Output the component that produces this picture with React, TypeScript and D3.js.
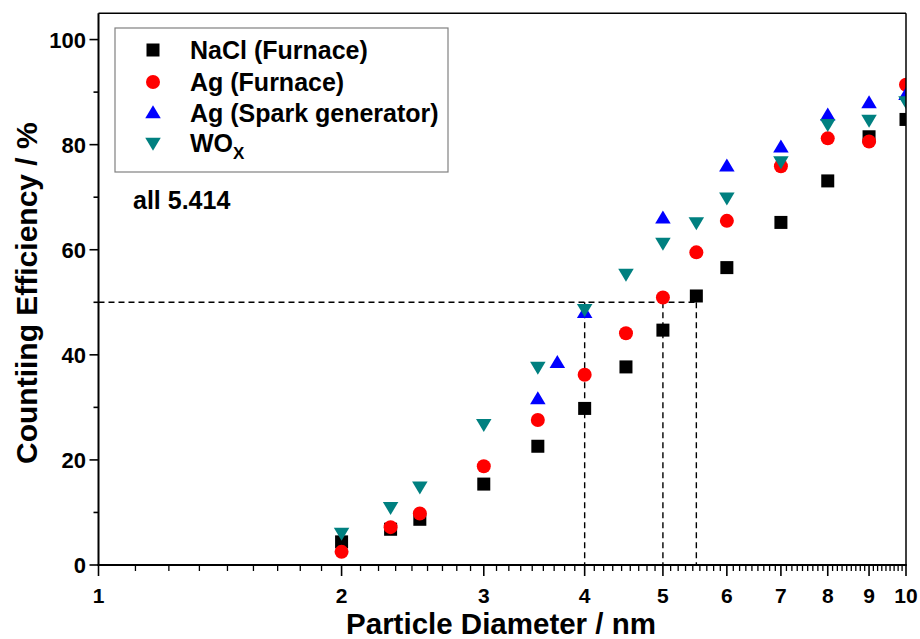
import React from "react";
import * as d3 from "d3";

const diameters = [2, 2.3, 2.5, 3, 3.5, 4, 4.5, 5, 5.5, 6, 7, 8, 9, 10];
const naclFurnace = [4.4, 6.8, 8.7, 15.4, 22.6, 29.8, 37.7, 44.7, 51.2, 56.6, 65.2, 73.1, 81.5, 84.8];
const agFurnace = [2.5, 7.2, 9.8, 18.8, 27.6, 36.2, 44.1, 50.9, 59.5, 65.5, 75.9, 81.2, 80.6, 91.4];
const sparkDiameters = [3.5, 3.7, 4, 5, 6, 7, 8, 9, 10];
const agSpark = [31.6, 38.5, 48.0, 66.0, 75.9, 79.5, 85.6, 87.9, 89.5];
const wox = [6.1, 11.0, 14.9, 26.8, 37.7, 48.7, 55.4, 61.3, 65.2, 69.9, 76.8, 83.9, 84.7, 88.2];

const xTickValues = [1, 2, 3, 4, 5, 6, 7, 8, 9, 10];
const yTickValues = [0, 20, 40, 60, 80, 100];
const yMinorValues = [10, 30, 50, 70, 90];
const cutoffDiameters = [4, 5, 5.5];
const cutoffEfficiency = 50;

const legendLabels = ["NaCl (Furnace)", "Ag (Furnace)", "Ag (Spark generator)", "WO"];

const FONT = "'Liberation Sans', Arial, Helvetica, sans-serif";

export default function App() {
  const W = 920, H = 639;
  const left = 98.5, right = 906, top = 13.3, bottom = 565;
  const x = d3.scaleLog().domain([1, 10]).range([left, right]);
  const y = d3.scaleLinear().domain([0, 105]).range([bottom, top]);

  const xMinor: number[] = [];
  for (let k = 1; k < 10; k++) for (let j = 1; j <= 8; j++) xMinor.push(k + j / 9);

  const sq = 13, r = 7, tw = 15.5, th = 13;
  const square = (cx: number, cy: number, key: string) => (
    <rect key={key} x={cx - sq / 2} y={cy - sq / 2} width={sq} height={sq} fill="#000" />
  );
  const circle = (cx: number, cy: number, key: string) => (
    <circle key={key} cx={cx} cy={cy} r={r} fill="#ff0000" />
  );
  const up = (cx: number, cy: number, key: string) => (
    <path key={key} d={`M${cx},${cy - th * 0.6} L${cx + tw / 2},${cy + th * 0.4} L${cx - tw / 2},${cy + th * 0.4}Z`} fill="#0000ff" />
  );
  const down = (cx: number, cy: number, key: string) => (
    <path key={key} d={`M${cx},${cy + th * 0.6} L${cx + tw / 2},${cy - th * 0.4} L${cx - tw / 2},${cy - th * 0.4}Z`} fill="#008080" />
  );
  const makers = [square, circle, up, down];

  const legX = 153, legTextX = 190, legRows = [50, 82, 113, 143];

  return (
    <svg width={W} height={H} style={{ position: "absolute", left: 0, top: 0, background: "#fff" }} fontFamily={FONT}>
      <defs>
        <clipPath id="plotclip">
          <rect x={left} y={top} width={right - left} height={bottom - top} />
        </clipPath>
      </defs>
      <rect x={0} y={0} width={W} height={H} fill="#fff" />

      {/* dashed guides */}
      <g stroke="#000" strokeWidth={1.4} strokeDasharray="6,4" fill="none">
        <line x1={left} x2={x(5.5)} y1={y(cutoffEfficiency)} y2={y(cutoffEfficiency)} />
        {cutoffDiameters.map((d) => (
          <line key={d} x1={x(d)} x2={x(d)} y1={y(cutoffEfficiency)} y2={bottom} />
        ))}
      </g>

      {/* data */}
      <g clipPath="url(#plotclip)">
        {diameters.map((d, i) => square(x(d), y(naclFurnace[i]), "n" + i))}
        {diameters.map((d, i) => circle(x(d), y(agFurnace[i]), "a" + i))}
        {sparkDiameters.map((d, i) => up(x(d), y(agSpark[i]), "s" + i))}
        {diameters.map((d, i) => down(x(d), y(wox[i]), "w" + i))}
      </g>

      {/* frame */}
      <g stroke="#000" fill="none">
        <line x1={left} x2={right} y1={top} y2={top} strokeWidth={1.5} />
        <line x1={right} x2={right} y1={top} y2={bottom} strokeWidth={1.5} />
        <line x1={left} x2={left} y1={top} y2={bottom + 1} strokeWidth={2} />
        <line x1={left - 1} x2={right + 0.75} y1={bottom} y2={bottom} strokeWidth={2} />
      </g>

      {/* ticks */}
      <g stroke="#000" strokeWidth={1.6}>
        {xTickValues.map((v) => (
          <line key={"xt" + v} x1={x(v)} x2={x(v)} y1={bottom} y2={bottom + 11} />
        ))}
        {xMinor.map((v, i) => (
          <line key={"xm" + i} x1={x(v)} x2={x(v)} y1={bottom} y2={bottom + 6} strokeWidth={1.3} />
        ))}
        {yTickValues.map((v) => (
          <line key={"yt" + v} x1={left - 9} x2={left} y1={y(v)} y2={y(v)} />
        ))}
        {yMinorValues.map((v) => (
          <line key={"ym" + v} x1={left - 5} x2={left} y1={y(v)} y2={y(v)} />
        ))}
      </g>

      <g fontWeight="bold" fontSize={22} fill="#000">
        {xTickValues.map((v) => (
          <text key={"xl" + v} x={x(v)} y={603} fontSize={21} textAnchor="middle">{v}</text>
        ))}
        {yTickValues.map((v) => (
          <text key={"yl" + v} x={86} y={y(v) + 8} textAnchor="end">{v}</text>
        ))}
      </g>

      <text x={501} y={634} textAnchor="middle" fontWeight="bold" fontSize={29.5}>Particle Diameter / nm</text>
      <text transform={`translate(37,${(top + bottom) / 2 + 4}) rotate(-90)`} textAnchor="middle" fontWeight="bold" fontSize={30}>Countiing Efficiency / %</text>

      {/* legend */}
      <rect x={115} y={28} width={333} height={144} fill="#fff" stroke="#808080" strokeWidth={1.2} />
      {legendLabels.map((lab, i) => (
        <g key={lab}>
          {makers[i](legX, legRows[i], "lg" + i)}
          <text x={legTextX} y={legRows[i] + 8.5} fontWeight="bold" fontSize={25}>
            {lab}
            {i === 3 ? <tspan fontSize={17} dy={7}>X</tspan> : null}
          </text>
        </g>
      ))}
      <text x={133} y={209} fontWeight="bold" fontSize={25}>all 5.414</text>
    </svg>
  );
}
